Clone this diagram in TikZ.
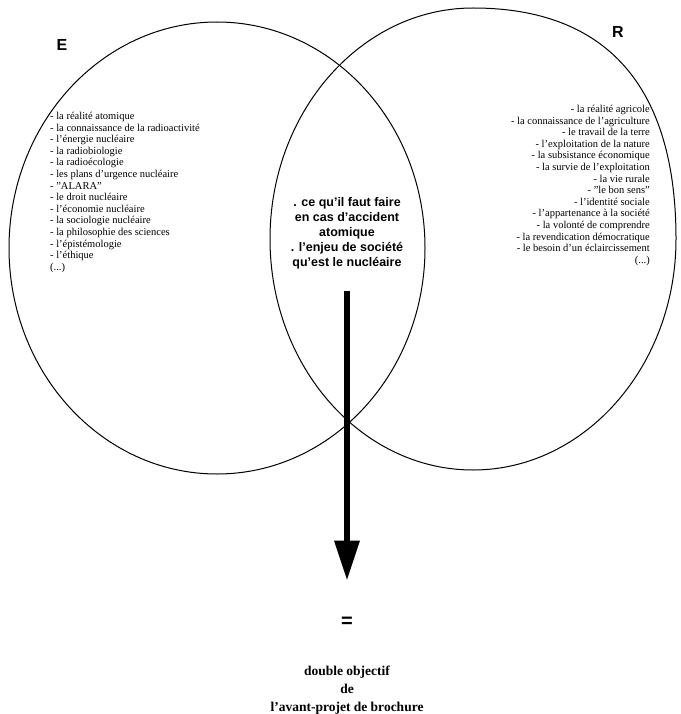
\documentclass[tikz,border=0pt]{standalone}
\usepackage{fontspec}
\setmainfont{Liberation Serif}
\setsansfont{Liberation Sans}
\usetikzlibrary{arrows.meta, positioning}

\begin{document}
\begin{tikzpicture}[x=1pt, y=-1pt, >=latex]
		\tikzstyle{set} = [draw=black, line width=1pt]
		\tikzstyle{setname} = [draw=none, font=\sffamily\bfseries\fontsize{16}{16}\selectfont]
		\tikzstyle{liste} = [draw=none, inner sep=0pt, font=\fontsize{10.5}{11.6}\selectfont]
		\tikzstyle{commun} = [draw=none, inner sep=0pt, align=center, font=\sffamily\bfseries\fontsize{12.5}{15}\selectfont]
		\tikzstyle{titre} = [draw=none, inner sep=0pt, align=center, font=\bfseries\fontsize{13.5}{18}\selectfont]
		\tikzstyle{arrow} = [line width=6.5pt, -{Triangle[length=40pt, width=24pt]}]

		\useasboundingbox (0,0) rectangle (680,714);

		% the two sets
		\draw[set] (217,248) ellipse [x radius=208, y radius=226];
		\draw[set] (473,8) .. controls (607,8) and (676,87) .. (676,239)
			.. controls (676,366) and (585,470) .. (473,470)
			.. controls (361,470) and (270,366) .. (270,239)
			.. controls (270,112) and (361,8) .. (473,8) -- cycle;

		\node[setname] 	at (62,45)		(e) 	{E};
		\node[setname] 	at (618,32)		(r) 	{R};

		\node[liste, anchor=north west, align=left] at (50,112) (gauche) {%
			- la réalité atomique\\
			- la connaissance de la radioactivité\\
			- l'énergie nucléaire\\
			- la radiobiologie\\
			- la radioécologie\\
			- les plans d'urgence nucléaire\\
			- "ALARA"\\
			- le droit nucléaire\\
			- l'économie nucléaire\\
			- la sociologie nucléaire\\
			- la philosophie des sciences\\
			- l'épistémologie\\
			- l'éthique\\
			(...)};

		\node[liste, anchor=north east, align=right] at (650,105) (droite) {%
			- la réalité agricole\\
			- la connaissance de l'agriculture\\
			- le travail de la terre\\
			- l'exploitation de la nature\\
			- la subsistance économique\\
			- la survie de l'exploitation\\
			- la vie rurale\\
			- "le bon sens"\\
			- l'identité sociale\\
			- l'appartenance à la société\\
			- la volonté de comprendre\\
			- la revendication démocratique\\
			- le besoin d'un éclaircissement\\
			(...)};

		% intersection
		\node[commun, anchor=north] at (347,197) (centre) {%
			. ce qu'il faut faire\\
			en cas d'accident\\
			atomique\\
			. l'enjeu de société\\
			qu'est le nucléaire};

		\node[titre, font=\sffamily\bfseries\fontsize{20}{20}\selectfont] at (347,622) (egal) {=};
		\node[titre, anchor=north] at (347,666) (but) {%
			double objectif\\
			de\\
			l'avant-projet de brochure};

		\path[arrow, shorten <=22pt, shorten >=36pt]
		(centre.south) 	edge	(egal.north);
	\end{tikzpicture}
\end{document}
